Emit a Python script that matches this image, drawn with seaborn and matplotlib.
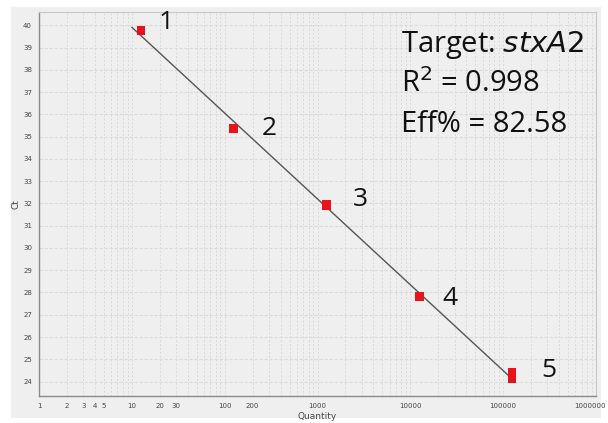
import numpy as np
import pandas as pd
import matplotlib
matplotlib.use("Agg")
import matplotlib.pyplot as plt
import matplotlib.transforms as mtransforms
import seaborn as sns
from matplotlib.patches import Rectangle

# Data
standard_ids = ["1", "1", "2", "2", "3", "3", "4", "4", "5", "5"]
quantity = [12.5, 12.5, 125, 125, 1250, 1250, 12500, 12500, 125000, 125000]
ct = [39.78, 39.76, 35.38, 35.36, 31.95, 31.88, 27.84, 27.82, 24.40, 24.12]
label_ids = ["1", "2", "3", "4", "5"]
label_qty = [23.4, 300, 2880, 26900, 313000]
label_ct = [40.13, 35.37, 32.18, 27.73, 24.49]
xtick_vals = [1, 2, 3, 4, 5, 10, 20, 30, 100, 200, 1000, 10000, 100000, 1000000]
xtick_labels = ["1", "2", "3", "4", "5", "10", "20", "30", "100", "200", "1000",
                "10000", "100000", "1000000"]
ytick_vals = list(range(24, 41))
line_range = [10, 125000]

df = pd.DataFrame({"Quantity": quantity, "Ct": ct, "std": standard_ids})

sns.set_style("whitegrid", {"axes.facecolor": "#efefef", "grid.color": "#d4d4d4",
                            "axes.edgecolor": "#8a8a8a"})
plt.rcParams["font.family"] = ["DejaVu Sans"]

fig = plt.figure(figsize=(6.08, 4.23), dpi=100, facecolor="white")
fig.patches.append(Rectangle((11/608, 5/423), 590/608, 411/423, transform=fig.transFigure,
                             facecolor="#efefef", edgecolor="none", zorder=-10))
ax = fig.add_axes([39/608, 1-396/423, (596-39)/608, (396-12)/423])

# grid
ax.set_xscale("log")
ax.set_xlim(1, 1000000)
ax.set_ylim(23.35, 40.6)
ax.grid(False)
minor_x = [m * 10**d for d in range(0, 6) for m in range(1, 10)] + [1000000]
for xv in minor_x:
    ax.axvline(xv, color="#d9d9d9", lw=0.7, ls=(0, (2, 2)), zorder=0)
for yv in ytick_vals:
    ax.axhline(yv, color="#dadada", lw=0.8, ls=(0, (3, 1.5)), zorder=0)

# regression line from data
coef = np.polyfit(np.log10(quantity), ct, 1)
lx = np.array(line_range, dtype=float)
ly = coef[0] * np.log10(lx) + coef[1]
sns.lineplot(x=lx, y=ly, ax=ax, color="#555555", lw=1.0, zorder=2)

sns.scatterplot(data=df, x="Quantity", y="Ct", ax=ax, marker="s", s=38,
                color="#e8141b", edgecolor="none", zorder=3, legend=False)

for lid, q, c in zip(label_ids, label_qty, label_ct):
    ax.text(q, c, lid, fontsize=19, color="#111111", family="Open Sans",
            va="center", ha="center")

ax.text(0.65, 0.955, "Target: $\\mathit{stxA2}$", transform=ax.transAxes, fontsize=21,
        family="Open Sans", va="top", ha="left", color="#111111")
ax.text(0.65, 0.85, "R$^2$ = 0.998", transform=ax.transAxes, fontsize=21,
        family="Open Sans", va="top", ha="left", color="#111111")
ax.text(0.65, 0.745, "Eff% = 82.58", transform=ax.transAxes, fontsize=21,
        family="Open Sans", va="top", ha="left", color="#111111")

ax.set_xticks(xtick_vals)
ax.set_xticklabels(xtick_labels)
ax.xaxis.set_minor_locator(matplotlib.ticker.NullLocator())
ax.set_yticks(ytick_vals)
ax.tick_params(axis="both", labelsize=5, colors="#555555", length=3, width=0.6,
               direction="out", pad=2)
ax.tick_params(axis="both", labelcolor="#444444")
# keep last x tick label inside the figure
last = ax.get_xticklabels()[-1]
last.set_transform(last.get_transform() + mtransforms.ScaledTranslation(-6/100, 0, fig.dpi_scale_trans))
ax.set_xlabel("Quantity", fontsize=6.5, color="#444444", labelpad=2)
ax.set_ylabel("Ct", fontsize=6.5, color="#444444", labelpad=2)

for side in ["top", "right"]:
    ax.spines[side].set_color("#c8c8c8")
    ax.spines[side].set_linewidth(0.8)
for side in ["left", "bottom"]:
    ax.spines[side].set_color("#8a8a8a")
    ax.spines[side].set_linewidth(1.0)

fig.savefig("out.png", dpi=100, facecolor="white")
